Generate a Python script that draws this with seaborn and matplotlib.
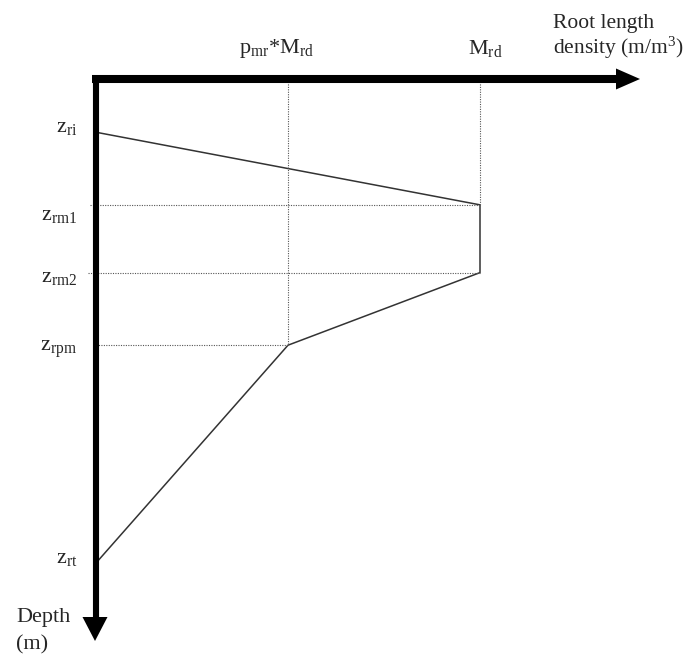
import matplotlib
matplotlib.use("Agg")
import matplotlib.pyplot as plt
import seaborn as sns
import pandas as pd

# Root length density profile (relative units) versus depth (m)
M_rd = 1.0
p_mr = 0.5
depth_labels = ["z_ri", "z_rm1", "z_rm2", "z_rpm", "z_rt"]
depths = [0.11, 0.26, 0.40, 0.55, 1.00]
densities = [0.0, M_rd, M_rd, p_mr * M_rd, 0.0]

sns.set_theme(style="white")
plt.rcParams["font.family"] = ["Liberation Serif", "DejaVu Serif"]
plt.rcParams["mathtext.fontset"] = "custom"
plt.rcParams["mathtext.rm"] = "Liberation Serif"
plt.rcParams["mathtext.it"] = "Liberation Serif"

W, H = 696, 656
X0, Y0 = 96, 79          # pixel position of the origin
SX, SY = 384, 484        # pixels per density unit / per metre

fig = plt.figure(figsize=(W / 100, H / 100), dpi=100)
ax = fig.add_axes([0, 0, 1, 1])
ax.set_xlim(-X0 / SX, (W - X0) / SX)
ax.set_ylim((H - Y0) / SY, -Y0 / SY)
ax.axis("off")


def px(x, y):
    """Convert a pixel offset from the canvas corner into data units."""
    return (x - X0) / SX, (y - Y0) / SY


df = pd.DataFrame({"density": densities, "depth": depths})
sns.lineplot(data=df, x="density", y="depth", sort=False, estimator=None,
             color="#333333", lw=1.1, ax=ax)

dot = dict(color="#555555", lw=0.8, ls=(0, (1, 1.2)))
z_ri, z_rm1, z_rm2, z_rpm, z_rt = depths
# guide lines
ax.plot([p_mr * M_rd, p_mr * M_rd], [0, z_rpm], **dot)
ax.plot([M_rd, M_rd], [0, z_rm1], **dot)
ax.plot([px(90, 0)[0], M_rd], [z_rm1, z_rm1], **dot)
ax.plot([px(88, 0)[0], M_rd], [z_rm2, z_rm2], **dot)
ax.plot([0, p_mr * M_rd], [z_rpm, z_rpm], **dot)

# axis shafts
hx0, _ = px(92, 0)
hx1, _ = px(620, 0)
ax.plot([hx0, hx1], [0, 0], color="black", lw=5.8, solid_capstyle="butt")
_, vy0 = px(0, 75)
_, vy1 = px(0, 620)
ax.plot([0, 0], [vy0, vy1], color="black", lw=4.4, solid_capstyle="butt")

# arrow heads
tip = px(640, 79); b1 = px(616, 68.5); b2 = px(616, 89.5)
ax.fill([tip[0], b1[0], b2[0]], [tip[1], b1[1], b2[1]], color="black", lw=0)
tip = px(95, 641); b1 = px(82.5, 617); b2 = px(107.5, 617)
ax.fill([tip[0], b1[0], b2[0]], [tip[1], b1[1], b2[1]], color="black", lw=0)

# depth labels
fs = 16
tick_text = [r"$\mathrm{z_{ri}}$", r"$\mathrm{z_{rm1}}$", r"$\mathrm{z_{rm2}}$",
             r"$\mathrm{z_{rpm}}$", r"$\mathrm{z_{rt}}$"]
baselines = [132, 220, 282, 351, 563]
for t, b in zip(tick_text, baselines):
    x, y = px(77, b)
    ax.text(x, y, t, ha="right", va="baseline", fontsize=fs)

x, y = px(276, 53)
ax.text(x, y, r"$\mathrm{p_{mr}}$*$\mathrm{M_{rd}}$", ha="center",
        va="baseline", fontsize=fs)
x, y = px(485, 54)
ax.text(x, y, r"$\mathrm{M_{rd}}$", ha="center", va="baseline", fontsize=fs)
x, y = px(553, 28)
ax.text(x, y, "Root length", ha="left", va="baseline", fontsize=15.5)
x, y = px(553, 54)
ax.text(x, y, "density (m/m$^{3}$)", ha="left", va="baseline", fontsize=15.5)
x, y = px(16, 622)
ax.text(x, y, "Depth", ha="left", va="baseline", fontsize=16)
x, y = px(16, 649)
ax.text(x, y, "(m)", ha="left", va="baseline", fontsize=16)

fig.savefig("out.png", dpi=100)
